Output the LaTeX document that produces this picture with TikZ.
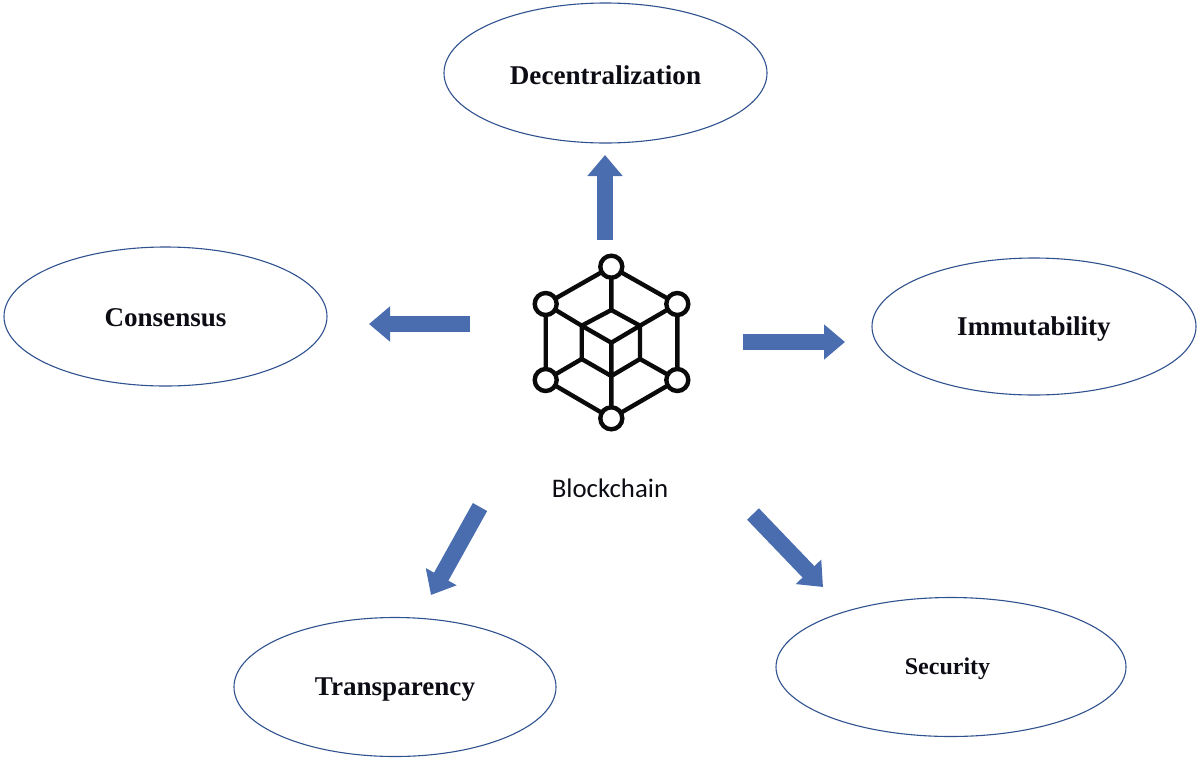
\documentclass[tikz,border=0pt]{standalone}
\usepackage{fontspec}
\setmainfont{Liberation Serif}
\newfontfamily\calibrifont{Carlito}
\usetikzlibrary{shapes.geometric,arrows.meta}
\definecolor{ringblue}{HTML}{2F528F}
\definecolor{arrowblue}{HTML}{4A6DB0}
\definecolor{iconblack}{HTML}{0A0A0A}
\definecolor{labelblack}{HTML}{0C0C14}
\tikzset{
  x=0.5pt,y=-0.5pt,
  topic/.style={shape=ellipse,draw=ringblue,line width=0.55pt,inner sep=0pt},
  topictext/.style={text=labelblack,inner sep=0pt,font=\bfseries\fontsize{13.55}{15}\selectfont},
  fat/.style={arrowblue,line width=8.2pt,-{Triangle[length=10.5pt,width=17pt]}},
  hub/.style={shape=circle,draw=iconblack,fill=white,line width=2.2pt,minimum size=11pt,inner sep=0pt},
  joint/.style={iconblack,line width=2.2pt,line cap=round},
}
\begin{document}
\begin{tikzpicture}
\useasboundingbox (0,0) rectangle (1200,761);
% topic ellipses
\node[topic,minimum width=161.5pt,minimum height=70pt,label={[topictext,yshift=-1pt]center:Decentralization}] (dec) at (605.5,73) {};
\node[topic,minimum width=161.5pt,minimum height=69.5pt,label={[topictext,yshift=-0.5pt]center:Consensus}] (con) at (165.5,316.5) {};
\node[topic,minimum width=162pt,minimum height=68.5pt,label={[topictext,yshift=-1.5pt]center:Immutability}] (imm) at (1034,326.5) {};
\node[topic,minimum width=161pt,minimum height=69.5pt,label={[topictext,yshift=-1.5pt]center:Transparency}] (tra) at (395,687) {};
\node[topic,minimum width=175pt,minimum height=69.5pt,label={[topictext,font=\bfseries\fontsize{12}{14}\selectfont,yshift=-1pt,xshift=-1.75pt]center:Security}] (sec) at (951,667) {};
% inner cube
\coordinate (it) at (611.3,310);
\coordinate (il) at (581.7,325.7);
\coordinate (ir) at (640,325.7);
\coordinate (ic) at (611.3,342.7);
\coordinate (ill) at (581.7,359);
\coordinate (ilr) at (640,359);
\coordinate (ib) at (611.3,376);
% outer hubs (drawn after the joints)
\coordinate (pT) at (611.3,266.7);
\coordinate (pUL) at (545.7,304);
\coordinate (pUR) at (677.3,304);
\coordinate (pLL) at (545.7,380);
\coordinate (pLR) at (677.3,380);
\coordinate (pB) at (611.3,418.3);
\draw[joint] (pT)--(pUL)--(pLL)--(pB)--(pLR)--(pUR)--(pT);
\draw[joint] (pT)--(it) (pUL)--(il)--(ic)--(ir)--(pUR) (pLL)--(ill)--(ib)--(ilr)--(pLR) (pB)--(ib)--(ic);
\draw[joint] (il)--(it)--(ir)--(ilr) (il)--(ill);
\node[hub] (hT) at (pT) {};
\node[hub] (hUL) at (pUL) {};
\node[hub] (hUR) at (pUR) {};
\node[hub] (hLL) at (pLL) {};
\node[hub] (hLR) at (pLR) {};
\node[hub] (hB) at (pB) {};
% label
\node[font=\calibrifont\fontsize{13.4}{15}\selectfont,text=labelblack,inner sep=0pt] (blk) at (610,488) {Blockchain};
% arrows
\coordinate (aUs) at (605,240); \coordinate (aUe) at (605,155);
\coordinate (aLs) at (470,324); \coordinate (aLe) at (369,324);
\coordinate (aRs) at (743,342); \coordinate (aRe) at (845,342);
\coordinate (aSWs) at (480,507); \coordinate (aSWe) at (431,595);
\coordinate (aSEs) at (753,514); \coordinate (aSEe) at (823,587);
\draw[fat] (aUs)--(aUe);
\draw[fat] (aLs)--(aLe);
\draw[fat] (aRs)--(aRe);
\draw[fat] (aSWs)--(aSWe);
\draw[fat] (aSEs)--(aSEe);
\end{tikzpicture}
\end{document}
